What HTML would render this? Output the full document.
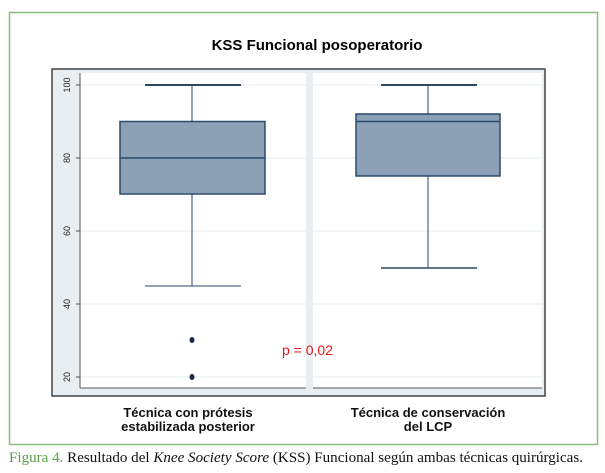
<!DOCTYPE html><html><head><style>body{margin:0;background:#fff;}svg{display:block}</style></head><body>
<svg width="605" height="473" xmlns="http://www.w3.org/2000/svg" font-family="Liberation Sans, sans-serif">
<rect width="605" height="473" fill="#fff"/>
<rect x="9.5" y="12.5" width="588" height="432" fill="#fff" stroke="#8cbf7a" stroke-width="1.5"/>
<text x="317" y="50" font-size="15" font-weight="bold" text-anchor="middle">KSS Funcional posoperatorio</text>
<rect x="52" y="69" width="493" height="327" fill="#e8eef1" stroke="#444" stroke-width="1.5"/>
<rect x="80" y="73" width="226" height="315" fill="#fff"/>
<rect x="313" y="73" width="229" height="315" fill="#fff"/>
<g stroke="#e6ecef" stroke-width="1">
<line x1="80" x2="306" y1="85" y2="85"/><line x1="80" x2="306" y1="158" y2="158"/><line x1="80" x2="306" y1="231" y2="231"/><line x1="80" x2="306" y1="304" y2="304"/><line x1="80" x2="306" y1="377" y2="377"/>
<line x1="313" x2="542" y1="85" y2="85"/><line x1="313" x2="542" y1="158" y2="158"/><line x1="313" x2="542" y1="231" y2="231"/><line x1="313" x2="542" y1="304" y2="304"/><line x1="313" x2="542" y1="377" y2="377"/>
</g>
<line x1="80" x2="80" y1="73" y2="388" stroke="#555"/>
<line x1="80" x2="306" y1="388" y2="388" stroke="#555"/>
<line x1="313" x2="542" y1="388" y2="388" stroke="#555"/>
<g font-size="9" fill="#222" text-anchor="middle">
<text transform="translate(67,85) rotate(-90)" dy="3">100</text>
<text transform="translate(67,158) rotate(-90)" dy="3">80</text>
<text transform="translate(67,231) rotate(-90)" dy="3">60</text>
<text transform="translate(67,304) rotate(-90)" dy="3">40</text>
<text transform="translate(67,377) rotate(-90)" dy="3">20</text>
</g>
<g stroke="#555"><line x1="76" x2="80" y1="85" y2="85"/><line x1="76" x2="80" y1="158" y2="158"/><line x1="76" x2="80" y1="231" y2="231"/><line x1="76" x2="80" y1="304" y2="304"/><line x1="76" x2="80" y1="377" y2="377"/></g>
<g stroke="#2a4a6a">
<line x1="192" x2="192" y1="85" y2="121.5"/><line x1="192" x2="192" y1="194" y2="286"/>
<line x1="145" x2="241" y1="85" y2="85" stroke-width="2"/><line x1="145" x2="241" y1="286" y2="286"/>
<rect x="120" y="121.5" width="145" height="72.5" fill="#8ca0b6" stroke-width="1.5"/>
<line x1="120" x2="265" y1="158" y2="158" stroke-width="1.5"/>
<line x1="428" x2="428" y1="85" y2="114"/><line x1="428" x2="428" y1="176" y2="268"/>
<line x1="381" x2="477" y1="85" y2="85" stroke-width="2"/><line x1="381" x2="477" y1="268" y2="268" stroke-width="1.5"/>
<rect x="356" y="114" width="144" height="62" fill="#8ca0b6" stroke-width="1.5"/>
<line x1="356" x2="500" y1="121.5" y2="121.5" stroke-width="1.5"/>
</g>
<ellipse cx="192" cy="340" rx="2.5" ry="3" fill="#1a2a4a"/>
<ellipse cx="192" cy="377" rx="2.5" ry="3" fill="#1a2a4a"/>
<text x="282" y="355" font-size="14" fill="#e8141c">p = 0,02</text>
<g font-size="13" font-weight="bold" text-anchor="middle" fill="#111">
<text x="188" y="417">Técnica con prótesis</text><text x="188" y="431">estabilizada posterior</text>
<text x="428" y="417">Técnica de conservación</text><text x="428" y="431">del LCP</text>
</g>
<text x="9" y="462" font-size="14.5" textLength="574" lengthAdjust="spacingAndGlyphs" font-family="Liberation Serif, serif" fill="#111"><tspan fill="#5aa04a">Figura 4.</tspan> Resultado del <tspan font-style="italic">Knee Society Score</tspan> (KSS) Funcional según ambas técnicas quirúrgicas.</text>
</svg></body></html>
